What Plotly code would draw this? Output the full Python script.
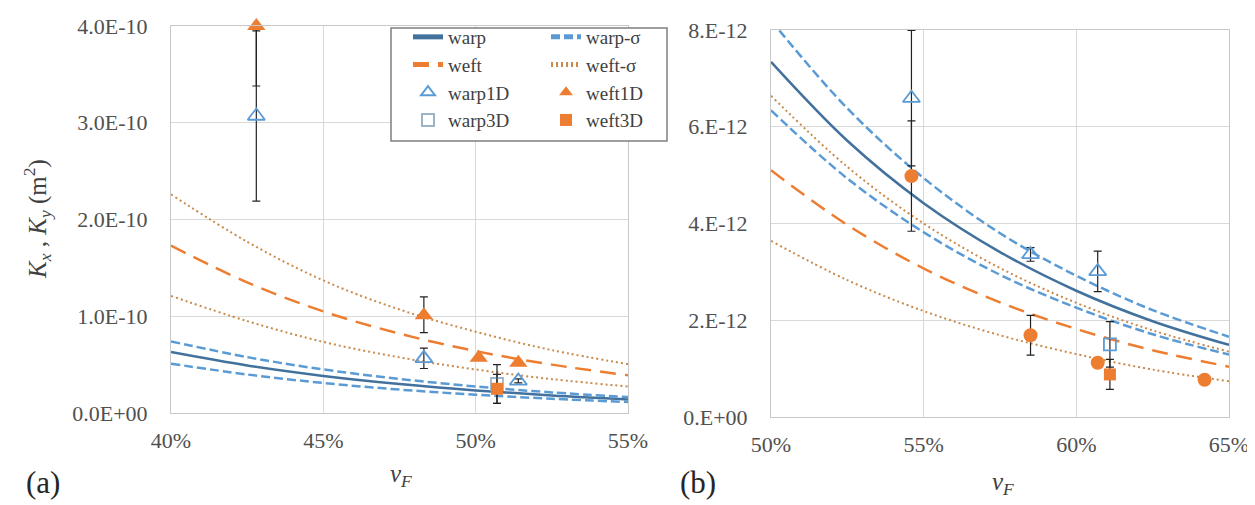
import plotly.graph_objects as go

# ---------------- data ----------------
# panel (a): fitted curves
vf_a = [0.40, 0.425, 0.45, 0.475, 0.50, 0.525, 0.55]
warp_a = [6.3e-11, 4.91e-11, 3.83e-11, 2.99e-11, 2.33e-11, 1.81e-11, 1.40e-11]
warp_sig_hi_a = [7.4e-11, 5.78e-11, 4.50e-11, 3.52e-11, 2.74e-11, 2.13e-11, 1.65e-11]
warp_sig_lo_a = [5.1e-11, 3.98e-11, 3.10e-11, 2.42e-11, 1.89e-11, 1.47e-11, 1.14e-11]
weft_a = [1.73e-10, 1.35e-10, 1.05e-10, 0.82e-10, 0.64e-10, 0.50e-10, 0.39e-10]
weft_sig_hi_a = [2.26e-10, 1.77e-10, 1.37e-10, 1.07e-10, 0.84e-10, 0.65e-10, 0.505e-10]
weft_sig_lo_a = [1.21e-10, 0.95e-10, 0.735e-10, 0.575e-10, 0.45e-10, 0.35e-10, 0.274e-10]

# panel (a): measurements
warp1d_a_x = [0.428, 0.483, 0.514]
warp1d_a_y = [3.07e-10, 0.565e-10, 0.332e-10]
warp1d_a_err = [0.88e-10, 0.105e-10, 0.02e-10]
weft1d_a_x = [0.428, 0.483, 0.501, 0.514]
weft1d_a_y = [4.0e-10, 1.01e-10, 0.572e-10, 0.52e-10]
weft1d_a_errp = [0.0, 0.19e-10, 0.0, 0.0]
weft1d_a_errm = [0.62e-10, 0.18e-10, 0.0, 0.0]
warp3d_a_x = [0.507]
warp3d_a_y = [0.30e-10]
warp3d_a_err = [0.20e-10]
weft3d_a_x = [0.507]
weft3d_a_y = [0.25e-10]
weft3d_a_err = [0.15e-10]

# panel (b): fitted curves
vf_b = [0.50, 0.525, 0.55, 0.575, 0.60, 0.625, 0.65]
warp_b = [7.34e-12, 5.71e-12, 4.42e-12, 3.41e-12, 2.61e-12, 1.98e-12, 1.49e-12]
warp_sig_hi_b = [8.2e-12, 6.38e-12, 4.94e-12, 3.80e-12, 2.92e-12, 2.21e-12, 1.66e-12]
warp_sig_lo_b = [6.34e-12, 4.93e-12, 3.82e-12, 2.94e-12, 2.26e-12, 1.71e-12, 1.29e-12]
weft_b = [5.1e-12, 3.97e-12, 3.07e-12, 2.37e-12, 1.82e-12, 1.38e-12, 1.04e-12]
weft_sig_hi_b = [6.64e-12, 5.17e-12, 4.0e-12, 3.08e-12, 2.36e-12, 1.79e-12, 1.35e-12]
weft_sig_lo_b = [3.64e-12, 2.83e-12, 2.19e-12, 1.69e-12, 1.30e-12, 0.98e-12, 0.74e-12]

# panel (b): measurements
warp1d_b_x = [0.546, 0.585, 0.607]
warp1d_b_y = [6.59e-12, 3.36e-12, 3.01e-12]
warp1d_b_err = [1.4e-12, 0.14e-12, 0.42e-12]
warp3d_b_x = [0.611]
warp3d_b_y = [1.5e-12]
warp3d_b_err = [0.47e-12]
weft1d_b_x = [0.546, 0.585, 0.607, 0.642]
weft1d_b_y = [4.98e-12, 1.69e-12, 1.12e-12, 0.77e-12]
weft1d_b_err = [1.14e-12, 0.41e-12, 0.10e-12, 0.0]
weft3d_b_x = [0.611]
weft3d_b_y = [0.88e-12]
weft3d_b_err = [0.31e-12]

# ticks
xt_a = [0.40, 0.45, 0.50, 0.55]
xt_a_text = ["40%", "45%", "50%", "55%"]
yt_a = [0, 1e-10, 2e-10, 3e-10, 4e-10]
yt_a_text = ["0.0E+00", "1.0E-10", "2.0E-10", "3.0E-10", "4.0E-10"]
xt_b = [0.50, 0.55, 0.60, 0.65]
xt_b_text = ["50%", "55%", "60%", "65%"]
yt_b = [0, 2e-12, 4e-12, 6e-12, 8e-12]
yt_b_text = ["0.E+00", "2.E-12", "4.E-12", "6.E-12", "8.E-12"]

# ---------------- styling ----------------
C_WARP = "#41719C"
C_WARP_S = "#5B9BD5"
C_WEFT = "#ED7D31"
C_WEFT_S = "#C98A4B"
C_OPEN = "#5B9BD5"
FONT = "Times New Roman, Liberation Serif, serif"
W, H = 1255, 505

fig = go.Figure()


def curves(x, data, xa, ya, show):
    warp, whi, wlo, weft, fhi, flo = data
    fig.add_trace(go.Scatter(x=x, y=warp, mode="lines", name="warp", line=dict(color=C_WARP, width=2.5, shape="spline"),
                             xaxis=xa, yaxis=ya, showlegend=show, legend="legend"))
    fig.add_trace(go.Scatter(x=x, y=whi, mode="lines", name="warp-σ", line=dict(color=C_WARP_S, width=2.5, dash="9px,4px", shape="spline"),
                             xaxis=xa, yaxis=ya, showlegend=show, legend="legend2"))
    fig.add_trace(go.Scatter(x=x, y=wlo, mode="lines", name="warp-σ", line=dict(color=C_WARP_S, width=2.5, dash="9px,4px", shape="spline"),
                             xaxis=xa, yaxis=ya, showlegend=False))
    fig.add_trace(go.Scatter(x=x, y=weft, mode="lines", name="weft", line=dict(color=C_WEFT, width=2.5, dash="16px,9px", shape="spline"),
                             xaxis=xa, yaxis=ya, showlegend=show, legend="legend"))
    fig.add_trace(go.Scatter(x=x, y=fhi, mode="lines", name="weft-σ", line=dict(color=C_WEFT_S, width=2, dash="2px,3px", shape="spline"),
                             xaxis=xa, yaxis=ya, showlegend=show, legend="legend2"))
    fig.add_trace(go.Scatter(x=x, y=flo, mode="lines", name="weft-σ", line=dict(color=C_WEFT_S, width=2, dash="2px,3px", shape="spline"),
                             xaxis=xa, yaxis=ya, showlegend=False))


curves(vf_a, [warp_a, warp_sig_hi_a, warp_sig_lo_a, weft_a, weft_sig_hi_a, weft_sig_lo_a], "x", "y", True)
curves(vf_b, [warp_b, warp_sig_hi_b, warp_sig_lo_b, weft_b, weft_sig_hi_b, weft_sig_lo_b], "x2", "y2", False)


def err(plus, minus=None):
    d = dict(type="data", array=plus, color="#222222", thickness=1.2, width=4)
    if minus is not None:
        d["symmetric"] = False
        d["arrayminus"] = minus
    return d


def markers(x, y, e, name, symbol, color, size, xa, ya, show, leg):
    if symbol.endswith("-open"):
        mk = dict(symbol=symbol, size=size, color=color, line=dict(width=1.8))
    else:
        mk = dict(symbol=symbol, size=size, color=color, line=dict(width=0))
    fig.add_trace(go.Scatter(x=x, y=y, mode="markers", name=name, marker=mk, error_y=e,
                             xaxis=xa, yaxis=ya, showlegend=show, legend=leg, cliponaxis=False))


# panel (a)
markers(warp1d_a_x, warp1d_a_y, err(warp1d_a_err), "warp1D", "triangle-up-open", C_OPEN, 15, "x", "y", True, "legend")
markers(warp3d_a_x, warp3d_a_y, err(warp3d_a_err), "warp3D", "square-open", "#9DB3C8", 12, "x", "y", True, "legend")
markers(weft1d_a_x, weft1d_a_y, err(weft1d_a_errp, weft1d_a_errm), "weft1D", "triangle-up", C_WEFT, 16, "x", "y", True, "legend2")
markers(weft3d_a_x, weft3d_a_y, err(weft3d_a_err), "weft3D", "square", C_WEFT, 12, "x", "y", True, "legend2")
# panel (b)
markers(warp1d_b_x, warp1d_b_y, err(warp1d_b_err), "warp1D", "triangle-up-open", C_OPEN, 15, "x2", "y2", False, "legend")
markers(warp3d_b_x, warp3d_b_y, err(warp3d_b_err), "warp3D", "square-open", C_OPEN, 12, "x2", "y2", False, "legend")
markers(weft1d_b_x, weft1d_b_y, err(weft1d_b_err), "weft1D", "circle", C_WEFT, 14, "x2", "y2", False, "legend2")
markers(weft3d_b_x, weft3d_b_y, err(weft3d_b_err), "weft3D", "square", C_WEFT, 12, "x2", "y2", False, "legend2")

tickfont = dict(family=FONT, size=22, color="#505050")
axcommon = dict(showgrid=True, gridcolor="#D9D9D9", gridwidth=1, showline=True, linecolor="#C8C8C8", linewidth=1,
                mirror=True, zeroline=False, ticks="", tickfont=tickfont, fixedrange=True)

legfont = dict(family=FONT, size=19, color="#404040")

fig.update_layout(
    width=W, height=H,
    margin=dict(l=0, r=0, t=0, b=0, autoexpand=False),
    paper_bgcolor="white", plot_bgcolor="white",
    font=dict(family=FONT, color="#404040", size=20),
    xaxis=dict(domain=[163 / W, 620 / W], range=[0.40, 0.55], tickvals=xt_a, ticktext=xt_a_text,
               anchor="y", ticklabelstandoff=8, **axcommon),
    yaxis=dict(domain=[(H - 405) / H, (H - 18) / H], range=[0, 4e-10], tickvals=yt_a, ticktext=yt_a_text,
               anchor="x", ticklabelstandoff=18, **axcommon),
    xaxis2=dict(domain=[763 / W, 1221 / W], range=[0.50, 0.65], tickvals=xt_b, ticktext=xt_b_text,
                anchor="y2", ticklabelstandoff=8, **axcommon),
    yaxis2=dict(domain=[(H - 409) / H, (H - 22) / H], range=[0, 8e-12], tickvals=yt_b, ticktext=yt_b_text,
                anchor="x2", ticklabelstandoff=18, **axcommon),
    legend=dict(x=400 / W, y=1 - 10 / H, xanchor="left", yanchor="top", bgcolor="rgba(0,0,0,0)",
                borderwidth=0, font=legfont, tracegroupgap=0, itemsizing="constant"),
    legend2=dict(x=538 / W, y=1 - 10 / H, xanchor="left", yanchor="top", bgcolor="rgba(0,0,0,0)",
                 borderwidth=0, font=legfont, tracegroupgap=0, itemsizing="constant"),
    shapes=[dict(type="rect", xref="paper", yref="paper", x0=383 / W, x1=659 / W, y0=1 - 133 / H, y1=1 - 20 / H,
                 line=dict(color="#7F7F7F", width=1.5), fillcolor="white", layer="above")],
    annotations=[
        dict(text="<i>K<sub>x</sub></i> , <i>K<sub>y</sub></i> (m<sup>2</sup>)", xref="paper", yref="paper",
             x=29 / W, y=(H - 211) / H, textangle=-90, showarrow=False,
             font=dict(family=FONT, size=25, color="#404040"), xanchor="center", yanchor="middle"),
        dict(text="<i>v<sub>F</sub></i>", xref="paper", yref="paper", x=393 / W, y=(H - 467) / H, showarrow=False,
             font=dict(family=FONT, size=25, color="#404040"), xanchor="center", yanchor="middle"),
        dict(text="<i>v<sub>F</sub></i>", xref="paper", yref="paper", x=995 / W, y=(H - 475) / H, showarrow=False,
             font=dict(family=FONT, size=25, color="#404040"), xanchor="center", yanchor="middle"),
        dict(text="(a)", xref="paper", yref="paper", x=35 / W, y=(H - 474) / H, showarrow=False,
             font=dict(family=FONT, size=31, color="#262626"), xanchor="center", yanchor="middle"),
        dict(text="(b)", xref="paper", yref="paper", x=690 / W, y=(H - 474) / H, showarrow=False,
             font=dict(family=FONT, size=31, color="#262626"), xanchor="center", yanchor="middle"),
    ],
)

fig.write_html("out.html")
